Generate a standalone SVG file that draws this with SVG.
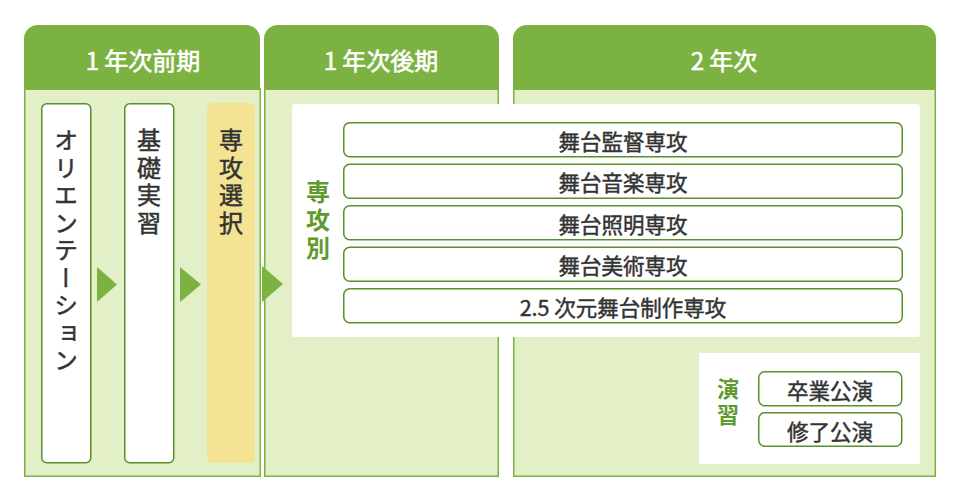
<svg xmlns="http://www.w3.org/2000/svg" width="960" height="504" viewBox="0 0 960 504">
<defs>
<style>
text{font-family:"Noto Sans CJK JP","Noto Sans",sans-serif;}
.hdr{fill:#7bb241;}
.body{fill:#e2efc7;stroke:#7bb241;stroke-width:1.5;}
.hdrtxt{fill:#fff;stroke:#fff;stroke-width:0.6;font-size:24px;font-weight:400;text-anchor:middle;}
.vbox{fill:#fff;stroke:#5a8f2b;stroke-width:1.5;}
.vtxt{fill:#333;stroke:#333;stroke-width:0.5;font-size:24px;font-weight:400;writing-mode:vertical-rl;letter-spacing:3.5px;}
.arrow{fill:#7bb241;}
.panel{fill:#fff;}
.sbox{fill:#fff;stroke:#5a8f2b;stroke-width:1.5;}
.stxt{fill:#333;stroke:#333;stroke-width:0.45;font-size:21.5px;font-weight:400;text-anchor:middle;dominant-baseline:central;}
.glabel{fill:#5f9a2c;font-size:24px;font-weight:700;writing-mode:vertical-rl;letter-spacing:4px;}
</style>
</defs>
<rect width="960" height="504" fill="#fff"/>
<g id="col1">
<rect class="body" x="24.75" y="89" width="235.5" height="387.25"/>
<path class="hdr" d="M24,90 V39 A14,14 0 0 1 38,25 H246 A14,14 0 0 1 260,39 V90 Z"/>
<text class="hdrtxt" x="143" y="70">1 年次前期</text>
</g>
<g id="col2">
<rect class="body" x="264.75" y="89" width="233.5" height="387.25"/>
<path class="hdr" d="M264,90 V39 A14,14 0 0 1 278,25 H485 A14,14 0 0 1 499,39 V90 Z"/>
<text class="hdrtxt" x="381" y="70">1 年次後期</text>
</g>
<g id="col3">
<rect class="body" x="513.75" y="89" width="421.5" height="387.25"/>
<path class="hdr" d="M513,90 V39 A14,14 0 0 1 527,25 H922 A14,14 0 0 1 936,39 V90 Z"/>
<text class="hdrtxt" x="724" y="70">2 年次</text>
</g>
<g id="orientation">
<rect class="vbox" x="41.75" y="103.75" width="49" height="359" rx="5"/>
<text class="vtxt" x="66" y="128">オリエンテーション</text>
</g>
<g id="kiso">
<rect class="vbox" x="124.75" y="103.75" width="49" height="359" rx="5"/>
<text class="vtxt" x="149" y="128">基礎実習</text>
</g>
<g id="senkou-sentaku">
<rect x="207" y="103" width="48" height="360" rx="5" fill="#f5e394"/>
<text class="vtxt" x="231" y="128">専攻選択</text>
</g>
<g id="connectors">
<polygon class="arrow" points="97,267 117,284.5 97,302"/>
<polygon class="arrow" points="180,267 201,284.5 180,302"/>
<polygon class="arrow" points="262,266 283,284 262,302"/>
</g>
<g id="senkou-panel">
<rect class="panel" x="292" y="104" width="628" height="233" rx="3"/>
<text class="glabel" x="318" y="180">専攻別</text>
</g>
<g id="s1"><rect class="sbox" x="343.75" y="122.75" width="558.5" height="34" rx="6"/><text class="stxt" x="623" y="140">舞台監督専攻</text></g>
<g id="s2"><rect class="sbox" x="343.75" y="164.25" width="558.5" height="34" rx="6"/><text class="stxt" x="623" y="181.5">舞台音楽専攻</text></g>
<g id="s3"><rect class="sbox" x="343.75" y="205.75" width="558.5" height="34" rx="6"/><text class="stxt" x="623" y="223">舞台照明専攻</text></g>
<g id="s4"><rect class="sbox" x="343.75" y="247.25" width="558.5" height="34" rx="6"/><text class="stxt" x="623" y="264.5">舞台美術専攻</text></g>
<g id="s5"><rect class="sbox" x="343.75" y="288.75" width="558.5" height="34" rx="6"/><text class="stxt" x="623" y="306">2.5 次元舞台制作専攻</text></g>
<g id="enshu-panel">
<rect class="panel" x="699" y="353" width="221" height="111"/>
<text class="glabel" x="728" y="378" style="font-size:22px">演習</text>
</g>
<g id="e1"><rect class="sbox" x="758.75" y="371.75" width="143" height="34" rx="6"/><text class="stxt" x="830" y="389">卒業公演</text></g>
<g id="e2"><rect class="sbox" x="758.75" y="412.75" width="143" height="33.5" rx="6"/><text class="stxt" x="830" y="430">修了公演</text></g>
</svg>
